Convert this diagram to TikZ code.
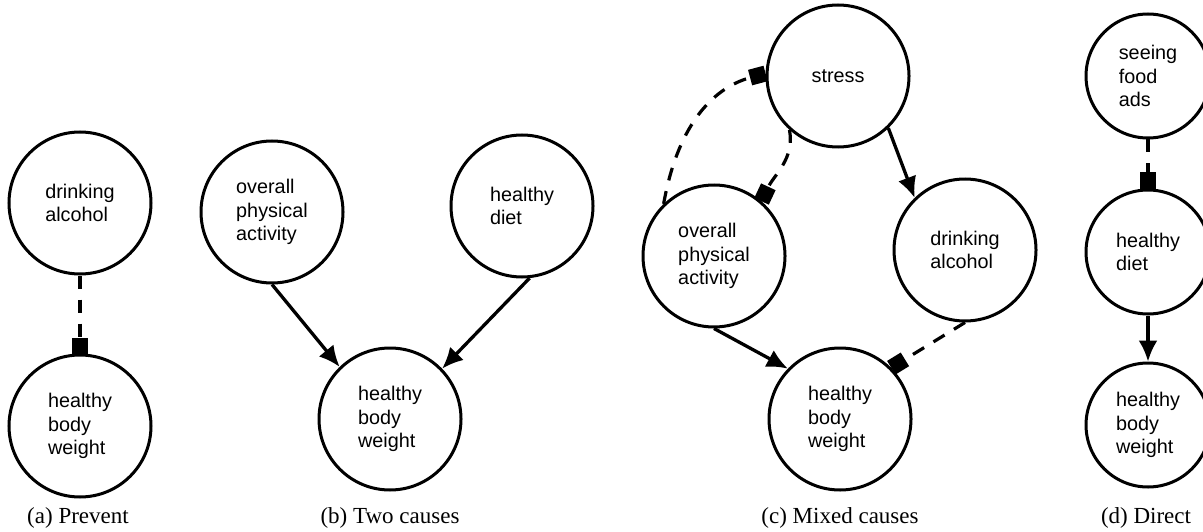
\documentclass[tikz,border=0pt]{standalone}
\usepackage{fontspec}
\setmainfont{Liberation Serif}
\setsansfont{Liberation Sans}
\usetikzlibrary{arrows.meta}
\begin{document}
\begin{tikzpicture}[x=0.5pt,y=0.5pt,
  vnode/.style={circle,draw,line width=1.5pt,minimum size=71pt,inner sep=0pt,align=left,
    font=\fontsize{9.9}{11.6}\sffamily},
  smallnode/.style={minimum size=62pt},
  arr/.style={line width=1.65pt,-{Latex[length=10.5pt,width=9.5pt]}},
  dsh/.style={line width=1.6pt,dash pattern=on 6.5pt off 5.5pt,-{Square[length=8pt,width=8pt]}},
  captext/.style={font=\fontsize{11.5}{13}\selectfont,anchor=base,inner sep=0pt}]
\useasboundingbox (0,0) rectangle (1203,531);
% (a)
\node[vnode] (A1) at (80,328) {drinking\\alcohol};
\node[vnode] (A2) at (80,105) {healthy\\body\\weight};
\draw[dsh] (A1.south) -- (A2.north);
\node[captext] (capA) at (78,8) {(a) Prevent};
% (b)
\node[vnode] (B1) at (272,319) {overall\\physical\\activity};
\node[vnode] (B2) at (522,325) {healthy\\diet};
\node[vnode] (B3) at (390,112) {healthy\\body\\weight};
\draw[arr] (B1.south) -- (B3.134);
\draw[arr] (B2.-84) -- (B3.44);
\node[captext] (capB) at (390,8) {(b) Two causes};
% (c)
\node[vnode] (C1) at (838,455) {stress};
\node[vnode] (C2) at (714,275) {overall\\physical\\activity};
\node[vnode] (C3) at (965,281) {drinking\\alcohol};
\node[vnode] (C4) at (840,112) {healthy\\body\\weight};
\draw[arr] (C1.-46) -- (C3.134);
\draw[arr] (C2.south) -- (C4.136);
\draw[dsh] (C3.south) -- (C4.45);
\draw[dsh] (C1.-132) to[out=-80,in=65] (C2.49);
\draw[dsh] (C2.134) to[out=80,in=195] (C1.178);
\node[captext] (capC) at (840,8) {(c) Mixed causes};
% (d)
\node[vnode,smallnode] (D1) at (1148,455) {seeing\\food\\ads};
\node[vnode,smallnode] (D2) at (1148,279) {healthy\\diet};
\node[vnode,smallnode] (D3) at (1148,106) {healthy\\body\\weight};
\draw[dsh] (D1.south) -- (D2.north);
\draw[arr] (D2.south) -- (D3.north);
\node[captext] (capD) at (1146,8) {(d) Direct};
\end{tikzpicture}
\end{document}
